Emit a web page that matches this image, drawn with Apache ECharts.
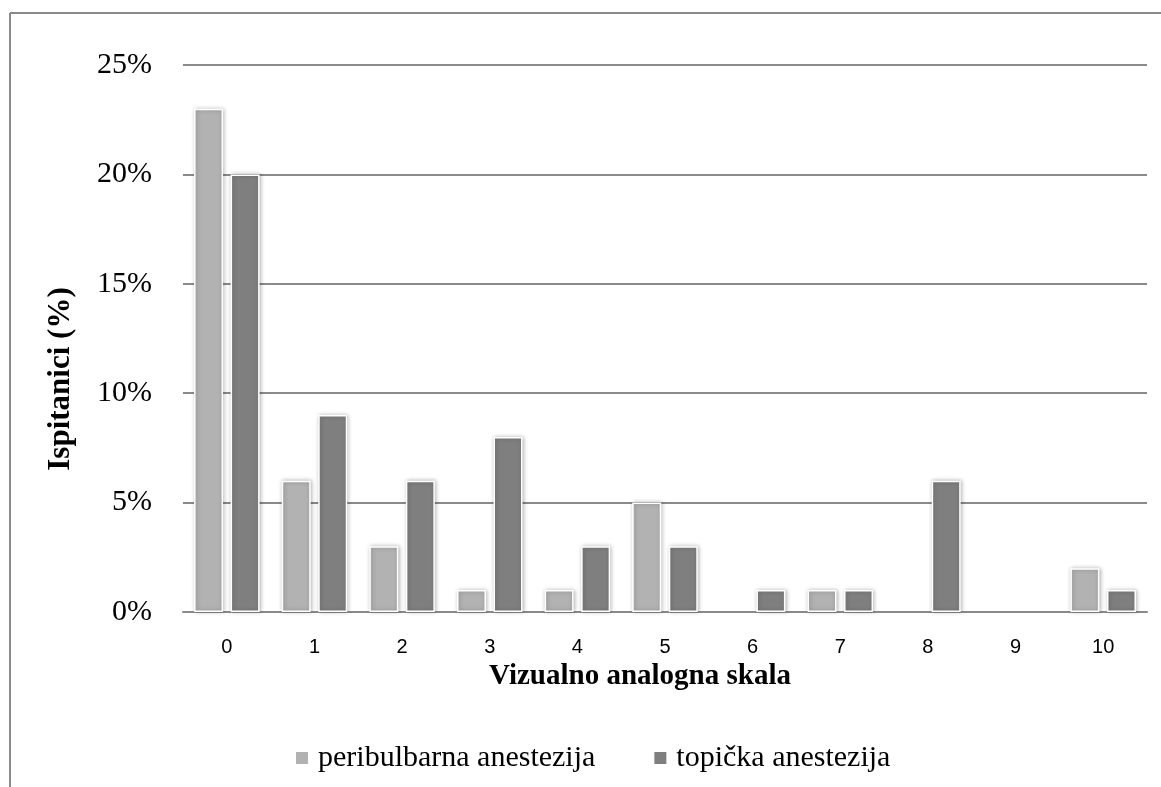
<!DOCTYPE html>
<html>
<head>
<meta charset="utf-8">
<script src="https://cdn.jsdelivr.net/npm/echarts@6/dist/echarts.min.js"></script>
<style>
html,body{margin:0;padding:0;background:#fff;}
#chart{width:1161px;height:787px;}
</style>
</head>
<body>
<div id="chart"></div>
<script>
var categories = ['0','1','2','3','4','5','6','7','8','9','10'];
var peribulbarna = [23, 6, 3, 1, 1, 5, 0, 1, 0, 0, 2];
var topicka = [20, 9, 6, 8, 3, 3, 1, 1, 6, 0, 1];
var seriesNames = ['peribulbarna anestezija', 'topička anestezija'];
var yTicks = [0, 5, 10, 15, 20, 25];

var serif = '"Liberation Serif", "Times New Roman", serif';
var gridColor = '#8a8a8a';

// zero values draw no bar at all in the reference
function noZero(arr) { return arr.map(function (v) { return v === 0 ? '-' : v; }); }

var chart = echarts.init(document.getElementById('chart'));
var barStyle = function (c) {
  return {
    color: c,
    borderColor: '#ffffff',
    borderWidth: 1.5,
    shadowBlur: 4,
    shadowColor: 'rgba(0,0,0,0.28)',
    shadowOffsetX: 1,
    shadowOffsetY: 0
  };
};
chart.setOption({
  animation: false,
  backgroundColor: '#ffffff',
  grid: { left: 183, right: 14, top: 65, bottom: 175, containLabel: false },
  legend: {
    data: seriesNames,
    left: 289,
    top: 738,
    itemWidth: 14,
    itemHeight: 14,
    itemGap: 57,
    icon: 'rect',
    textStyle: { fontFamily: serif, fontSize: 30, color: '#000', padding: [0, 0, 0, 4] }
  },
  xAxis: {
    type: 'category',
    data: categories,
    axisLine: { show: true, lineStyle: { color: gridColor, width: 2 } },
    axisTick: { show: false },
    axisLabel: { fontFamily: '"Liberation Sans", Arial, sans-serif', fontSize: 20, color: '#000', margin: 25 }
  },
  yAxis: {
    type: 'value',
    min: 0,
    max: 25,
    interval: 5,
    axisLine: { show: false },
    axisTick: { show: false },
    splitLine: { lineStyle: { color: gridColor, width: 2 } },
    axisLabel: {
      fontFamily: serif, fontSize: 30, color: '#000', margin: 31,
      formatter: function (v) { return yTicks.indexOf(v) >= 0 ? v + '%' : ''; }
    }
  },
  series: [
    {
      name: seriesNames[0], type: 'bar', data: noZero(peribulbarna),
      barWidth: 29, barGap: '26%',
      itemStyle: barStyle('#b2b2b2')
    },
    {
      name: seriesNames[1], type: 'bar', data: noZero(topicka),
      barWidth: 29, barGap: '26%',
      itemStyle: barStyle('#7f7f7f')
    }
  ],
  graphic: [
    { type: 'line', shape: { x1: 10, y1: 13, x2: 1161, y2: 13 }, style: { stroke: '#8a8a8a', lineWidth: 2 } },
    { type: 'line', shape: { x1: 10, y1: 13, x2: 10, y2: 787 }, style: { stroke: '#8a8a8a', lineWidth: 2 } },
    {
      type: 'text', x: 640, y: 677,
      style: { text: 'Vizualno analogna skala', font: 'bold 29px ' + serif, fill: '#000', textAlign: 'center', textVerticalAlign: 'middle' }
    },
    {
      type: 'text', x: 61, y: 379, rotation: Math.PI / 2,
      style: { text: 'Ispitanici (%)', font: 'bold 31px ' + serif, fill: '#000', textAlign: 'center', textVerticalAlign: 'middle' }
    }
  ]
});
</script>
</body>
</html>
